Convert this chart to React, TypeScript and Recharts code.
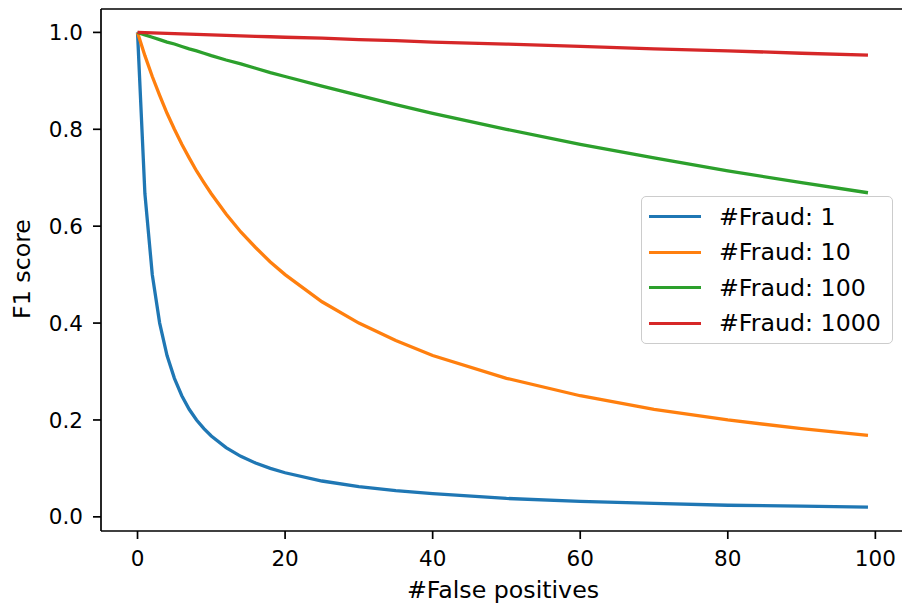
import { LineChart, Line, XAxis, YAxis, Legend, ReferenceLine } from "recharts";

const falsePositives = [0, 1, 2, 3, 4, 5, 6, 7, 8, 9, 10, 12, 14, 16, 18, 20, 25, 30, 35, 40, 50, 60, 70, 80, 90, 99];

const fraud1 = [1.0, 0.667, 0.5, 0.4, 0.333, 0.286, 0.25, 0.222, 0.2, 0.182, 0.167, 0.143, 0.125, 0.111, 0.1, 0.091, 0.074, 0.0625, 0.054, 0.048, 0.038, 0.032, 0.028, 0.024, 0.022, 0.02];
const fraud10 = [1.0, 0.952, 0.909, 0.87, 0.833, 0.8, 0.769, 0.741, 0.714, 0.69, 0.667, 0.625, 0.588, 0.556, 0.526, 0.5, 0.444, 0.4, 0.364, 0.333, 0.286, 0.25, 0.222, 0.2, 0.182, 0.168];
const fraud100 = [1.0, 0.995, 0.99, 0.985, 0.98, 0.976, 0.971, 0.966, 0.962, 0.957, 0.952, 0.943, 0.935, 0.926, 0.917, 0.909, 0.889, 0.87, 0.851, 0.833, 0.8, 0.769, 0.741, 0.714, 0.69, 0.669];
const fraud1000 = [1.0, 0.9995, 0.999, 0.9985, 0.998, 0.9975, 0.997, 0.9965, 0.996, 0.9955, 0.995, 0.994, 0.993, 0.992, 0.991, 0.99, 0.988, 0.985, 0.983, 0.98, 0.976, 0.971, 0.966, 0.962, 0.957, 0.953];

const xTicks = [0, 20, 40, 60, 80, 100];
const yTicks = [0, 0.2, 0.4, 0.6, 0.8, 1.0];

const series = [
  { key: "f1", name: "#Fraud: 1", color: "#1f77b4" },
  { key: "f10", name: "#Fraud: 10", color: "#ff7f0e" },
  { key: "f100", name: "#Fraud: 100", color: "#2ca02c" },
  { key: "f1000", name: "#Fraud: 1000", color: "#d62728" },
];

const data = falsePositives.map((fp, i) => ({
  fp,
  f1: fraud1[i],
  f10: fraud10[i],
  f100: fraud100[i],
  f1000: fraud1000[i],
}));

const FONT = "'DejaVu Sans', sans-serif";
const Y_MAX = 1.0483;
const Y_MIN = -0.0292;

function LegendBox() {
  return (
    <div
      style={{
        width: 252,
        height: 148,
        border: "1.7px solid #cccccc",
        borderRadius: 5,
        background: "rgba(255,255,255,0.8)",
        boxSizing: "border-box",
        fontFamily: FONT,
        fontSize: 23.7,
        color: "#000",
        paddingTop: 2,
        textAlign: "left",
      }}
    >
      {series.map((s) => (
        <div key={s.key} style={{ display: "flex", alignItems: "center", height: 35.5 }}>
          <div style={{ width: 52, height: 3.3, background: s.color, marginLeft: 7, marginRight: 18 }} />
          <span style={{ lineHeight: "24px" }}>{s.name}</span>
        </div>
      ))}
    </div>
  );
}

export default function App() {
  return (
    <div style={{ position: "absolute", left: 0, top: 0, width: 902, height: 608, overflow: "hidden", background: "#fff" }}>
      <LineChart width={910} height={608} data={data} margin={{ top: 9, right: 5.5, bottom: 0, left: 0 }}>
        <XAxis
          dataKey="fp"
          type="number"
          domain={[-4.95, 103.95]}
          allowDataOverflow
          ticks={xTicks}
          height={77}
          tickSize={8}
          tickMargin={12}
          stroke="#000"
          strokeWidth={1.7}
          tick={{ fill: "#000", fontSize: 21.5, fontFamily: FONT }}
          label={{
            content: () => (
              <text x={503} y={590} textAnchor="middle" dominantBaseline="central" fontSize={23.7} fontFamily={FONT} fill="#000">
                #False positives
              </text>
            ),
          }}
        />
        <YAxis
          type="number"
          domain={[Y_MIN, Y_MAX]}
          allowDataOverflow
          ticks={yTicks}
          width={101}
          tickSize={8}
          tickMargin={10}
          stroke="#000"
          strokeWidth={1.7}
          tickFormatter={(v: number) => v.toFixed(1)}
          tick={{ fill: "#000", fontSize: 21.5, fontFamily: FONT }}
          label={{
            content: () => (
              <text x={22} y={269} transform="rotate(-90 22 269)" textAnchor="middle" dominantBaseline="central" fontSize={23.7} fontFamily={FONT} fill="#000">
                F1 score
              </text>
            ),
          }}
        />
        <ReferenceLine y={Y_MAX} stroke="#000" strokeWidth={1.7} ifOverflow="visible" />
        {series.map((s) => (
          <Line
            key={s.key}
            dataKey={s.key}
            name={s.name}
            stroke={s.color}
            strokeWidth={3.3}
            dot={false}
            type="linear"
            isAnimationActive={false}
          />
        ))}
        <Legend
          layout="horizontal"
          verticalAlign="middle"
          align="center"
          content={() => <LegendBox />}
          wrapperStyle={{ position: "absolute", left: 641, top: 196, width: 252, bottom: "auto", right: "auto" }}
        />
      </LineChart>
    </div>
  );
}
